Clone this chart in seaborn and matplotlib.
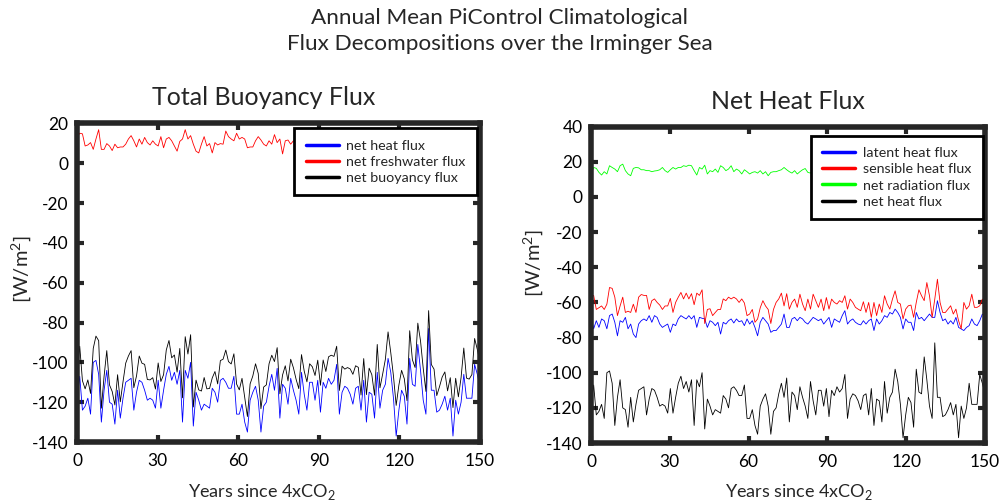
import seaborn as sns
import matplotlib.pyplot as plt
import numpy as np

# annual means, 150 model years each (W/m^2)
net_heat = [
    -119, -107, -124, -122, -118, -126, -100, -99, -106, -130,
    -114, -104, -120, -121, -131, -114, -128, -118, -110, -109,
    -108, -124, -115, -109, -110, -114, -119, -118, -119, -123,
    -109, -123, -114, -106, -102, -109, -105, -111, -104, -130,
    -104, -108, -100, -132, -115, -119, -124, -121, -122, -123,
    -113, -115, -120, -109, -108, -110, -113, -113, -107, -126,
    -126, -121, -130, -135, -119, -115, -112, -119, -135, -122,
    -120, -112, -106, -114, -103, -128, -111, -113, -121, -108,
    -114, -119, -126, -105, -116, -124, -110, -110, -119, -109,
    -125, -110, -113, -108, -111, -109, -101, -126, -115, -112,
    -113, -116, -121, -113, -112, -124, -109, -130, -115, -116,
    -128, -105, -123, -114, -111, -98, -105, -118, -137, -124,
    -114, -117, -131, -98, -111, -112, -91, -104, -119, -126,
    -83, -114, -114, -125, -124, -121, -117, -124, -118, -137,
    -119, -126, -120, -106, -118, -118, -118, -101, -106, -112]

net_freshwater = [
    13.0, 15.1, 14.8, 8.7, 9.2, 10.4, 7.0, 12.2, 16.9, 7.0,
    7.0, 9.9, 8.7, 6.4, 9.6, 7.8, 8.2, 8.2, 9.6, 12.2,
    13.9, 11.3, 8.2, 12.2, 9.6, 13.0, 10.4, 9.2, 11.3, 9.6,
    8.7, 13.4, 7.8, 12.2, 13.0, 11.3, 8.7, 6.1, 11.0, 12.2,
    16.9, 12.2, 13.9, 9.6, 6.1, 5.2, 9.6, 13.4, 8.7, 9.9,
    5.2, 10.4, 9.2, 9.9, 9.6, 16.2, 13.4, 12.2, 11.3, 15.1,
    12.2, 13.0, 12.2, 7.8, 8.2, 8.2, 11.3, 13.4, 11.7, 9.6,
    8.7, 11.3, 9.6, 14.4, 10.4, 12.2, 4.7, 11.3, 11.7, 9.6,
    11.3, 10.5, 12.8, 8.9, 11.6, 14.2, 9.3, 7.8, 12.4, 10.1,
    13.5, 11.2, 8.4, 10.8, 14.6, 12.0, 9.1, 11.9, 13.1, 8.6,
    10.4, 12.7, 15.0, 11.3, 9.5, 7.6, 10.9, 13.8, 12.1, 9.8,
    11.5, 14.0, 10.2, 8.1, 12.5, 13.3, 9.9, 11.1, 15.4, 12.6,
    10.0, 8.8, 11.8, 13.9, 12.3, 9.4, 10.7, 14.8, 16.0, 11.4,
    9.0, 12.9, 10.6, 8.3, 11.7, 13.6, 12.2, 9.7, 10.3, 14.3,
    11.0, 8.7, 12.4, 13.2, 10.1, 9.6, 11.9, 13.0, 12.5, 11.8]

latent_heat = [
    -68.5, -75.0, -70.4, -74.2, -69.4, -70.4, -75.0, -67.5, -66.6, -71.3,
    -79.0, -70.4, -71.3, -68.5, -75.0, -72.3, -78.0, -80.0, -72.3, -70.4,
    -69.4, -70.4, -67.5, -71.3, -67.5, -68.5, -72.3, -74.2, -73.2, -72.3,
    -77.0, -72.3, -73.2, -69.4, -67.5, -68.5, -69.4, -67.5, -69.4, -67.5,
    -74.2, -68.5, -69.0, -69.4, -74.2, -70.4, -71.3, -73.2, -71.3, -78.0,
    -71.3, -72.3, -70.4, -69.4, -71.7, -69.4, -71.0, -70.4, -73.2, -69.4,
    -72.3, -70.4, -74.2, -79.0, -71.3, -68.5, -70.4, -72.3, -77.0, -76.0,
    -76.0, -74.2, -72.3, -66.6, -74.2, -74.2, -69.4, -68.5, -70.4, -68.5,
    -69.4, -71.3, -72.3, -70.4, -68.5, -69.4, -70.4, -69.4, -72.3, -70.4,
    -68.5, -74.2, -69.4, -70.4, -71.3, -67.5, -64.7, -72.3, -70.4, -69.4,
    -71.3, -72.3, -72.8, -70.4, -72.3, -70.4, -69.4, -76.0, -69.4, -72.3,
    -70.4, -67.5, -68.5, -65.7, -66.6, -63.8, -65.7, -68.5, -75.1, -69.4,
    -71.3, -71.3, -76.0, -65.7, -69.4, -68.5, -70.4, -68.5, -66.6, -68.5,
    -68.5, -59.0, -65.7, -70.4, -69.4, -72.3, -70.4, -72.3, -68.5, -74.2,
    -75.1, -76.0, -74.2, -73.2, -69.4, -72.3, -73.2, -70.4, -66.6, -68.5]

sensible_heat = [
    -57.0, -56.0, -64.0, -63.0, -62.0, -64.0, -61.0, -51.5, -52.0, -57.0,
    -67.5, -62.0, -57.0, -65.7, -65.0, -65.7, -61.0, -65.7, -57.0, -55.5,
    -56.0, -56.0, -64.0, -59.0, -58.0, -60.0, -61.5, -64.0, -62.0, -62.0,
    -57.7, -65.7, -60.0, -57.0, -54.3, -58.0, -54.7, -58.0, -55.0, -61.3,
    -54.7, -56.0, -52.8, -72.0, -64.0, -63.6, -67.5, -65.7, -64.0, -64.0,
    -58.0, -59.0, -57.0, -58.0, -57.0, -58.0, -60.0, -58.0, -60.3, -67.5,
    -66.6, -64.0, -71.3, -69.4, -63.0, -59.0, -62.0, -64.0, -72.0, -64.0,
    -60.0, -58.0, -54.7, -62.0, -55.0, -63.8, -60.0, -58.1, -62.8, -55.3,
    -60.9, -64.7, -58.1, -63.8, -55.3, -59.0, -62.8, -58.1, -64.7, -57.2,
    -63.8, -58.1, -60.0, -60.9, -59.0, -60.0, -56.2, -63.8, -58.1, -60.0,
    -62.8, -63.8, -64.7, -59.6, -65.7, -60.0, -68.5, -60.0, -67.5, -60.9,
    -65.7, -56.2, -60.9, -63.8, -58.1, -53.4, -60.0, -60.9, -69.4, -63.8,
    -61.9, -61.5, -68.5, -60.0, -52.8, -56.2, -59.0, -48.7, -56.2, -68.5,
    -58.1, -46.8, -60.0, -65.7, -65.7, -63.8, -61.9, -66.6, -63.8, -70.4,
    -75.0, -60.0, -63.8, -61.9, -55.3, -62.8, -62.8, -61.9, -58.1, -59.6]

net_radiation = [
    13.1, 16.8, 16.3, 14.0, 12.5, 14.4, 13.1, 17.8, 16.8, 15.9,
    14.4, 17.8, 18.7, 15.0, 13.1, 12.1, 16.3, 16.8, 16.6, 15.5,
    15.5, 15.0, 15.0, 14.4, 14.8, 15.0, 15.5, 16.8, 15.0, 14.0,
    15.5, 16.8, 15.9, 16.8, 16.8, 17.8, 17.4, 18.1, 17.8, 15.0,
    12.5, 16.8, 15.9, 18.1, 13.1, 15.0, 14.4, 15.9, 14.0, 17.8,
    16.8, 15.0, 15.9, 17.8, 14.4, 15.9, 15.0, 13.1, 15.5, 14.4,
    13.1, 14.0, 14.4, 13.6, 15.0, 13.1, 14.4, 12.1, 14.0, 14.4,
    14.4, 15.0, 15.5, 16.8, 15.5, 14.4, 13.6, 15.0, 13.1, 14.4,
    15.5, 16.2, 14.0, 13.6, 15.0, 16.4, 15.2, 14.1, 13.3, 15.8,
    16.6, 14.9, 13.8, 14.6, 15.9, 17.1, 15.3, 14.2, 13.5, 15.1,
    16.0, 14.7, 13.9, 15.4, 16.8, 15.6, 14.3, 13.2, 14.8, 15.7,
    16.3, 14.5, 13.7, 15.2, 16.1, 17.0, 15.0, 14.0, 13.4, 14.9,
    15.8, 16.5, 14.6, 13.9, 15.3, 16.2, 14.8, 13.6, 14.4, 15.5,
    16.7, 15.1, 14.2, 13.8, 15.0, 16.0, 14.7, 13.5, 14.3, 15.6,
    16.4, 15.2, 14.1, 13.7, 15.0, 15.9, 14.6, 14.0, 16.5, 13.2]

sns.set_style("white")
plt.rcParams['font.family'] = ['Lato', 'DejaVu Sans']
plt.rcParams['axes.unicode_minus'] = False

years = np.linspace(0, 150, len(net_heat))
# buoyancy flux in heat-flux units = net heat + net freshwater contribution
net_buoyancy = np.array(net_heat) + np.array(net_freshwater)

fig = plt.figure(figsize=(9.99, 5.04), dpi=100)
ax1 = fig.add_axes([0.0771, 0.123, 0.4034, 0.632])
ax2 = fig.add_axes([0.5916, 0.121, 0.3944, 0.6276])

frame = '#262626'


def style_axes(ax, ylim, yticks, xlab_pos, ylab_pos):
    ax.set_xlim(0, 150)
    ax.set_ylim(*ylim)
    ax.set_xticks(range(0, 151, 30))
    ax.set_yticks(yticks)
    ax.tick_params(direction='in', length=5, width=3, color=frame,
                   bottom=True, left=True, top=True, right=True,
                   labelsize=12.5, labelcolor='black')
    ax.tick_params(axis='x', pad=8)
    ax.tick_params(axis='y', pad=6)
    for s in ax.spines.values():
        s.set_linewidth(4)
        s.set_color(frame)
    ax.set_xlabel('Years since 4xCO$_\\mathregular{2}$', fontsize=13)
    ax.set_ylabel('[W/m$^\\mathregular{2}$]', fontsize=14.5)
    ax.xaxis.set_label_coords(*xlab_pos)
    ax.yaxis.set_label_coords(*ylab_pos)


def add_legend(ax, anchor):
    leg = ax.legend(loc='upper right', bbox_to_anchor=anchor, borderaxespad=0,
                    fontsize=10.3, fancybox=False, framealpha=1, handlelength=2.3,
                    labelspacing=0.28, borderpad=0.8, handletextpad=0.55)
    leg.get_frame().set_edgecolor('black')
    leg.get_frame().set_linewidth(2)
    for h in leg.legend_handles:
        h.set_linewidth(2.5)
    return leg


# left: total buoyancy flux
sns.lineplot(x=years, y=net_heat, color=(0, 0, 1), linewidth=0.6, ax=ax1, label='net heat flux')
sns.lineplot(x=years, y=net_freshwater, color=(1, 0, 0), linewidth=0.6, ax=ax1, label='net freshwater flux')
sns.lineplot(x=years, y=net_buoyancy, color='black', linewidth=0.6, ax=ax1, label='net buoyancy flux')
style_axes(ax1, (-140, 20), range(-140, 21, 20), (0.459, -0.1255), (-0.107, 0.543))
ax1.set_title('Total Buoyancy Flux', fontsize=18, pad=13, x=0.464)
add_legend(ax1, (0.993, 0.985))

# right: net heat flux
sns.lineplot(x=years, y=latent_heat, color=(0, 0, 1), linewidth=0.6, ax=ax2, label='latent heat flux')
sns.lineplot(x=years, y=sensible_heat, color=(1, 0, 0), linewidth=0.6, ax=ax2, label='sensible heat flux')
sns.lineplot(x=years, y=net_radiation, color=(0, 1, 0), linewidth=0.6, ax=ax2, label='net radiation flux')
sns.lineplot(x=years, y=net_heat, color='black', linewidth=0.6, ax=ax2, label='net heat flux')
style_axes(ax2, (-140, 40), range(-140, 41, 20), (0.528, -0.123), (-0.114, 0.569))
ax2.set_title('Net Heat Flux', fontsize=18, pad=13)
add_legend(ax2, (0.995, 0.9706))

fig.suptitle('Annual Mean PiControl Climatological\nFlux Decompositions over the Irminger Sea',
             x=0.5, y=0.985, fontsize=16.2, linespacing=1.4)

fig.savefig('out.png', dpi=100)
